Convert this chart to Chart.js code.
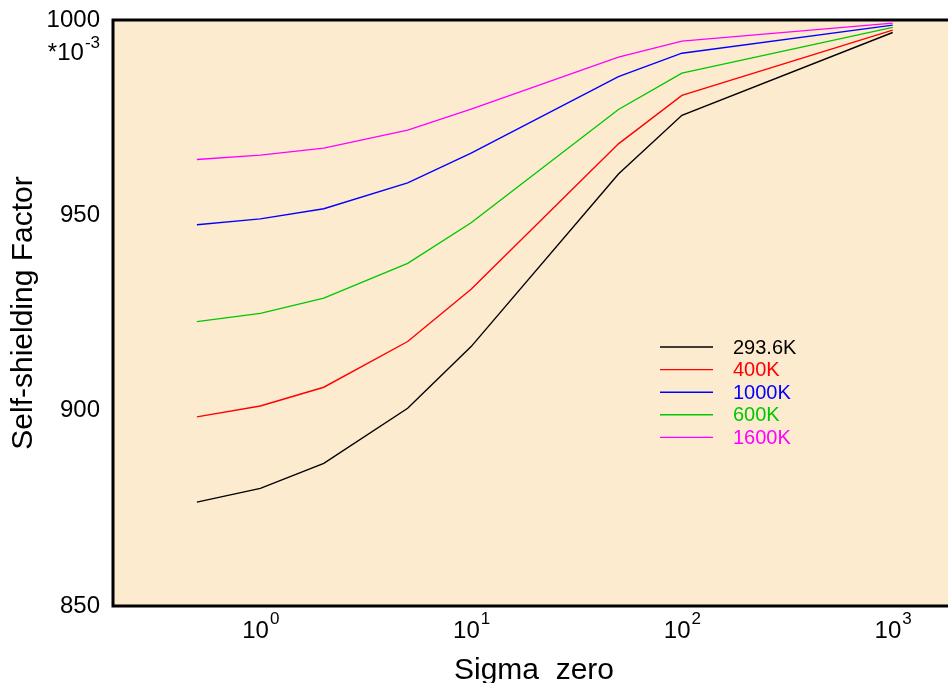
<!DOCTYPE html>
<html>
<head>
<meta charset="utf-8">
<script src="https://cdn.jsdelivr.net/npm/chart.js@4"></script>
<style>
  html, body { margin: 0; padding: 0; background: #fff; }
  #wrap { width: 948px; height: 683px; }
</style>
</head>
<body>
<div id="wrap"><canvas id="ssfChart"></canvas></div>
<script>
// sigma zero points (x) and self-shielding factors (*1e-3) per temperature
const sigmaZero = [0.5, 1, 2, 5, 10, 50, 100, 1000];
const ssf293 = [876.6, 880.1, 886.5, 900.6, 916.4, 960.6, 975.6, 996.8];
const ssf400 = [898.4, 901.2, 906.0, 917.7, 931.1, 968.3, 980.7, 997.4];
const ssf1000 = [947.6, 949.1, 951.7, 958.3, 965.9, 985.5, 991.5, 998.7];
const ssf600 = [922.8, 924.9, 928.8, 937.7, 948.1, 977.1, 986.4, 998.1];
const ssf1600 = [964.3, 965.4, 967.2, 971.8, 977.2, 990.5, 994.6, 999.2];

const seriesLabels = ["293.6K", "400K", "1000K", "600K", "1600K"];
const seriesValues = [ssf293, ssf400, ssf1000, ssf600, ssf1600];
const seriesColors = ["#000000", "#ff0000", "#0000ff", "#00c800", "#ff00ff"];

const xTicks = [1, 10, 100, 1000];
const xExponents = ["0", "1", "2", "3"];

const FONT = "'Liberation Sans', Arial, sans-serif";

const datasets = seriesLabels.map((label, i) => ({
    label: label,
    data: sigmaZero.map((x, j) => ({ x: x, y: seriesValues[i][j] })),
    borderColor: seriesColors[i],
    borderWidth: 1.4,
    pointRadius: 0,
    tension: 0,
    fill: false,
}));

const decorPlugin = {
    id: "decor",
    beforeDraw(chart) {
        const { ctx, chartArea: a } = chart;
        ctx.save();
        ctx.fillStyle = "#fdebd0";
        ctx.fillRect(a.left, a.top, a.right - a.left, a.bottom - a.top);
        ctx.restore();
    },
    afterDraw(chart) {
        const { ctx, chartArea: a } = chart;
        const xs = chart.scales.x;
        ctx.save();

        // frame (left, top, bottom)
        ctx.strokeStyle = "#000";
        ctx.lineWidth = 3;
        ctx.beginPath();
        ctx.moveTo(a.right + 2, a.top);
        ctx.lineTo(a.left, a.top);
        ctx.lineTo(a.left, a.bottom);
        ctx.lineTo(a.right + 2, a.bottom);
        ctx.stroke();

        ctx.fillStyle = "#000";
        ctx.textBaseline = "alphabetic";

        // x tick labels 10^n
        xTicks.forEach((v, i) => {
            const px = xs.getPixelForValue(v);
            ctx.font = "24px " + FONT;
            const w1 = ctx.measureText("10").width;
            ctx.font = "17px " + FONT;
            const w2 = ctx.measureText(xExponents[i]).width;
            const x0 = px - (w1 + w2) / 2;
            ctx.font = "24px " + FONT;
            ctx.textAlign = "left";
            ctx.fillText("10", x0, 638);
            ctx.font = "17px " + FONT;
            ctx.fillText(xExponents[i], x0 + w1 + 1, 624);
        });

        // y multiplier *10^-3
        ctx.textAlign = "right";
        ctx.font = "17px " + FONT;
        const wExp = ctx.measureText("-3").width;
        ctx.fillText("-3", 100, 48);
        ctx.font = "24px " + FONT;
        ctx.fillText("*10", 100 - wExp - 1, 60);

        // axis titles
        ctx.font = "30px " + FONT;
        ctx.textAlign = "center";
        ctx.fillText("Sigma_zero", 534, 679);
        ctx.save();
        ctx.translate(32, 313);
        ctx.rotate(-Math.PI / 2);
        ctx.fillText("Self-shielding Factor", 0, 0);
        ctx.restore();

        // legend
        ctx.font = "20px " + FONT;
        ctx.textAlign = "left";
        ctx.textBaseline = "middle";
        chart.data.datasets.forEach((ds, i) => {
            const y = 347 + i * 22.6;
            ctx.strokeStyle = ds.borderColor;
            ctx.lineWidth = 1.4;
            ctx.beginPath();
            ctx.moveTo(660, y);
            ctx.lineTo(713, y);
            ctx.stroke();
            ctx.fillStyle = ds.borderColor;
            ctx.fillText(ds.label, 733, y + 1);
        });

        ctx.restore();
    },
};

new Chart(document.getElementById("ssfChart"), {
    type: "line",
    data: { datasets: datasets },
    options: {
        responsive: true,
        maintainAspectRatio: false,
        animation: false,
        layout: { padding: { top: 20, right: 0, bottom: 0, left: 0 } },
        plugins: {
            legend: { display: false },
            tooltip: { enabled: false },
        },
        scales: {
            x: {
                type: "logarithmic",
                min: 0.2,
                max: 1830,
                grid: { display: false },
                border: { display: false },
                ticks: { display: false },
                afterFit(scale) {
                    scale.height = 77;
                    scale.paddingLeft = 0;
                    scale.paddingRight = 0;
                },
            },
            y: {
                min: 850,
                max: 1000,
                grid: { display: false, drawTicks: false },
                border: { display: false },
                ticks: {
                    stepSize: 50,
                    padding: 13,
                    color: "#000",
                    font: { family: FONT, size: 24 },
                    callback: (v) => String(v),
                },
                afterFit(scale) {
                    scale.width = 113;
                    scale.paddingTop = 0;
                    scale.paddingBottom = 0;
                },
            },
        },
    },
    plugins: [decorPlugin],
});
</script>
</body>
</html>
